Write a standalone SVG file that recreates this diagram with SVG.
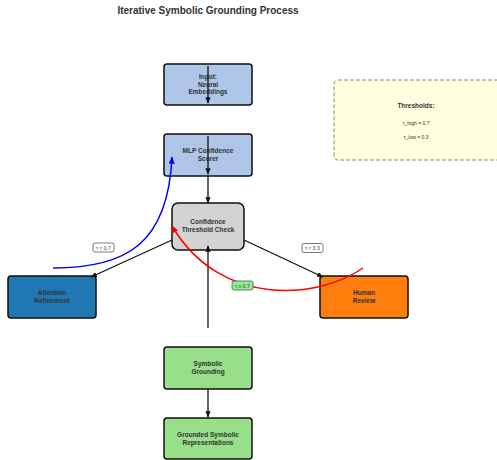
<svg xmlns="http://www.w3.org/2000/svg" width="497" height="460" viewBox="0 0 497 460">
<defs>
<style>
.n{stroke:#111;stroke-width:1.5}
.t{font-family:"Liberation Sans",Arial,sans-serif;font-size:6.5px;font-weight:bold;fill:#333;text-anchor:middle}
.e{stroke:#111;stroke-width:1.3;fill:none}
.lb{font-family:"Liberation Sans",Arial,sans-serif;font-size:5px;fill:#333;text-anchor:middle}
</style>
<marker id="ak" viewBox="0 0 10 10" refX="9" refY="5" markerWidth="5" markerHeight="5" orient="auto"><path d="M0,1 L10,5 L0,9 z" fill="#111"/></marker>
<marker id="ab" viewBox="0 0 10 10" refX="9" refY="5" markerWidth="5" markerHeight="5" orient="auto"><path d="M0,1 L10,5 L0,9 z" fill="#0000ff"/></marker>
<marker id="ar" viewBox="0 0 10 10" refX="9" refY="5" markerWidth="5" markerHeight="5" orient="auto"><path d="M0,1 L10,5 L0,9 z" fill="#ff0000"/></marker>
</defs>
<rect width="497" height="460" fill="#fff"/>
<text x="208" y="14" font-family="Liberation Sans,Arial,sans-serif" font-size="10" font-weight="bold" fill="#333" text-anchor="middle">Iterative Symbolic Grounding Process</text>

<g id="thresholds">
<rect x="334" y="80" width="170" height="80" rx="4" fill="#ffffe0" stroke="#888" stroke-width="1" stroke-dasharray="4,2"/>
<text class="t" x="416" y="108">Thresholds:</text>
<text class="lb" x="416" y="125">τ_high = 0.7</text>
<text class="lb" x="416" y="139">τ_low = 0.3</text>
</g>

<g id="input"><rect class="n" x="164" y="64" width="88" height="41" rx="3" fill="#aec7e8"/><text class="t" x="208" y="79">Input:</text><text class="t" x="208" y="86.5">Neural</text><text class="t" x="208" y="94">Embeddings</text></g>
<g id="mlp"><rect class="n" x="164" y="134" width="88" height="42" rx="3" fill="#aec7e8"/><text class="t" x="208" y="153">MLP Confidence</text><text class="t" x="208" y="160.5">Scorer</text></g>
<g id="threshold"><rect class="n" x="172" y="203" width="72" height="47" rx="6" fill="#d3d3d3"/><text class="t" x="208" y="224">Confidence</text><text class="t" x="208" y="232">Threshold Check</text></g>
<g id="attention"><rect class="n" x="8" y="276" width="88" height="42" rx="3" fill="#1f77b4"/><text class="t" x="52" y="295">Attention</text><text class="t" x="52" y="302.5">Refinement</text></g>
<g id="human"><rect class="n" x="320" y="276" width="88" height="42" rx="3" fill="#ff7f0e"/><text class="t" x="364" y="295">Human</text><text class="t" x="364" y="302.5">Review</text></g>
<g id="symbolic"><rect class="n" x="164" y="347" width="88" height="42" rx="3" fill="#98df8a"/><text class="t" x="208" y="366">Symbolic</text><text class="t" x="208" y="373.5">Grounding</text></g>
<g id="grounded"><rect class="n" x="164" y="418" width="88" height="41" rx="3" fill="#98df8a"/><text class="t" x="208" y="437">Grounded Symbolic</text><text class="t" x="208" y="444.5">Representations</text></g>

<g id="connectors">
<line class="e" x1="208" y1="66" x2="208" y2="103" marker-end="url(#ak)"/>
<line class="e" x1="208" y1="136" x2="208" y2="174" marker-end="url(#ak)"/>
<line class="e" x1="208" y1="176" x2="208" y2="203" marker-end="url(#ak)"/>
<line class="e" x1="172" y1="240" x2="91" y2="277" marker-end="url(#ak)"/>
<line class="e" x1="244" y1="240" x2="323" y2="277" marker-end="url(#ak)"/>
<line class="e" x1="208" y1="328" x2="208" y2="246" marker-end="url(#ak)"/>
<line class="e" x1="208" y1="389" x2="208" y2="417" marker-end="url(#ak)"/>
<path d="M53,268 C125,268 168,245 172,157" fill="none" stroke="#0000ff" stroke-width="1.5" marker-end="url(#ab)"/>
<path d="M363,268 C320,298 222,310 172,226" fill="none" stroke="#ff0000" stroke-width="1.5" marker-end="url(#ar)"/>
<rect x="93" y="243" width="21" height="9" rx="2" fill="#fff" stroke="#555" stroke-width="0.8"/>
<text class="lb" x="103.5" y="249.8">τ &lt; 0.7</text>
<rect x="302" y="243.5" width="21" height="9" rx="2" fill="#fff" stroke="#555" stroke-width="0.8"/>
<text class="lb" x="312.5" y="250.3">τ &lt; 0.3</text>
<rect x="232" y="281" width="21" height="9" rx="2" fill="#90ee90" stroke="#555" stroke-width="0.8"/>
<text class="lb" x="242.5" y="287.8">τ ≥ 0.7</text>
</g>
</svg>
